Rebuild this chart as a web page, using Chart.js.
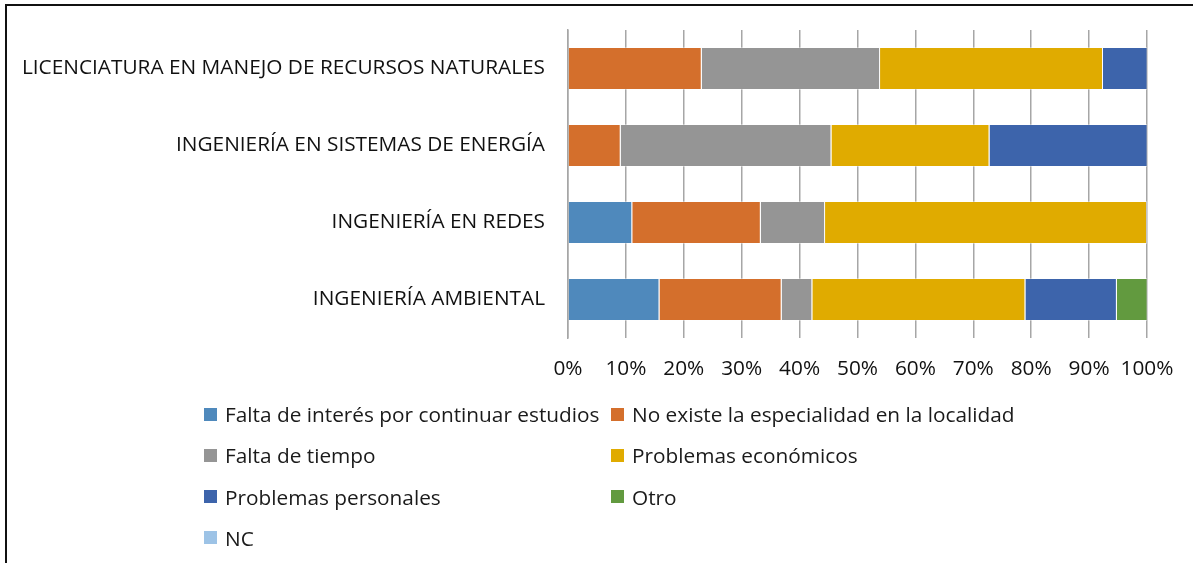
<!DOCTYPE html>
<html>
<head>
<meta charset="utf-8">
<script src="https://cdn.jsdelivr.net/npm/chart.js"></script>
<style>
  body { margin: 0; background: #fff; }
  #wrap { position: relative; width: 1193px; height: 563px; overflow: hidden; }
  #frame { position: absolute; left: 5px; top: 4px; width: 1300px; height: 700px; border: 2px solid #111; }
  #myChart { position: absolute; left: 0; top: 0; }
  #legend { position: absolute; left: 204px; top: 399px; width: 900px; font-family: "Open Sans", sans-serif; font-size: 20.8px; color: #1a1a1a; }
  .item { position: absolute; height: 30px; display: flex; align-items: center; white-space: nowrap; }
  .sw { display: inline-block; width: 13px; height: 13px; margin-right: 8px; }
</style>
</head>
<body>
<div id="wrap">
  <div id="frame"></div>
  <canvas id="myChart" width="1193" height="563"></canvas>
  <div id="legend"></div>
</div>
<script>
var carreras = ["LICENCIATURA EN MANEJO DE RECURSOS NATURALES", "INGENIERÍA EN SISTEMAS DE ENERGÍA", "INGENIERÍA EN REDES", "INGENIERÍA AMBIENTAL"];
// porcentajes por motivo (cada carrera suma 100)
var faltaInteres   = [0, 0, 11.1, 15.8];
var noEspecialidad = [23.1, 9.1, 22.2, 21.1];
var faltaTiempo    = [30.8, 36.4, 11.1, 5.3];
var economicos     = [38.5, 27.3, 55.6, 36.8];
var personales     = [7.7, 27.3, 0, 15.8];
var otro           = [0, 0, 0, 5.3];
var nc             = [0, 0, 0, 0];
var ticks = ["0%", "10%", "20%", "30%", "40%", "50%", "60%", "70%", "80%", "90%", "100%"];

var font = { family: "'Open Sans', sans-serif", size: 20.8 };

function ds(label, data, color) {
  return { label: label, data: data, backgroundColor: color, borderColor: 'rgba(255,255,255,0.35)', borderWidth: 1, barPercentage: 0.56, categoryPercentage: 1 };
}

var ctx = document.getElementById('myChart').getContext('2d');
var chart = new Chart(ctx, {
  type: 'bar',
  data: {
    labels: carreras,
    datasets: [
      ds("Falta de interés por continuar estudios", faltaInteres, '#4f89bc'),
      ds("No existe la especialidad en la localidad", noEspecialidad, '#d46f2c'),
      ds("Falta de tiempo", faltaTiempo, '#959595'),
      ds("Problemas económicos", economicos, '#e0ab00'),
      ds("Problemas personales", personales, '#3d64ab'),
      ds("Otro", otro, '#629a3f'),
      ds("NC", nc, '#9dc3e6')
    ]
  },
  options: {
    indexAxis: 'y',
    responsive: false,
    animation: false,
    layout: { padding: { top: 30, right: 46, bottom: 185, left: 0 } },
    plugins: { legend: { display: false }, tooltip: { enabled: false } },
    scales: {
      x: {
        stacked: true, min: 0, max: 100,
        grid: { color: '#a6a6a6', lineWidth: 1.5, drawTicks: false },
        border: { display: false },
        ticks: { stepSize: 10, color: '#111', font: font, padding: 19, maxRotation: 0,
          callback: function (v, i) { return ticks[i]; } },
        afterFit: function (s) { s.height = 40; }
      },
      y: {
        stacked: true,
        grid: { display: false, drawTicks: false },
        border: { color: '#a6a6a6', width: 1.5 },
        ticks: { color: '#111', font: font, padding: 23 },
        afterFit: function (s) { s.width = 568; s.paddingTop = 0; s.paddingBottom = 0; }
      }
    }
  }
});

// leyenda en dos columnas
var leg = document.getElementById('legend');
chart.data.datasets.forEach(function (d, i) {
  var el = document.createElement('div');
  el.className = 'item';
  el.style.left = (i % 2 ? 407 : 0) + 'px';
  el.style.top = (Math.floor(i / 2) * 41.3) + 'px';
  el.innerHTML = '<span class="sw" style="background:' + d.backgroundColor + '"></span>' + d.label;
  leg.appendChild(el);
});
</script>
</body>
</html>
